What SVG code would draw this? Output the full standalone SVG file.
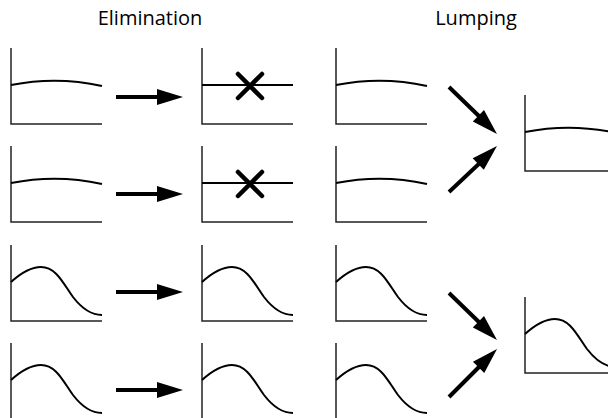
<svg xmlns="http://www.w3.org/2000/svg" width="608" height="418" viewBox="0 0 608 418">
<defs>
<style>
.axis{fill:none;stroke:#222;stroke-width:1.5}
.curve{fill:none;stroke:#000;stroke-width:2}
.shaft{stroke:#000;stroke-width:4;fill:none}
.head{fill:#000}
.cross{stroke:#000;stroke-width:4.5;stroke-linecap:round}
.title{font-family:"Open Sans","Liberation Sans",sans-serif;font-size:20px;fill:#000;text-anchor:middle}
</style>
<path id="arrowhead" d="M-26,-8 L0,0 L-26,8 z"/>
<path id="flat" d="M0,37 C30,31 60,31 91,38"/>
<path id="bell" d="M0,37 C10,28 20,22 30,22 C45,22 52,38 62,52 C72,65 82,70 91,70"/>
<path id="axes" d="M0,0 V76 H91"/>
</defs>
<text class="title" x="150" y="25">Elimination</text>
<text class="title" x="476" y="25">Lumping</text>

<g id="e-in-1" transform="translate(11,48)"><use href="#axes" class="axis"/><use href="#flat" class="curve"/></g>
<g id="e-in-2" transform="translate(11,146)"><use href="#axes" class="axis"/><use href="#flat" class="curve"/></g>
<g id="e-in-3" transform="translate(11,245)"><use href="#axes" class="axis"/><use href="#bell" class="curve"/></g>
<g id="e-in-4" transform="translate(11,343)"><use href="#axes" class="axis"/><use href="#bell" class="curve"/></g>

<g id="e-out-1" transform="translate(202,48)"><use href="#axes" class="axis"/><path d="M0,37 H91" class="curve" stroke-width="1.5"/><path class="cross" d="M36,26 L60,50 M60,26 L36,50"/></g>
<g id="e-out-2" transform="translate(202,146)"><use href="#axes" class="axis"/><path d="M0,37 H91" class="curve" stroke-width="1.5"/><path class="cross" d="M36,26 L60,50 M60,26 L36,50"/></g>
<g id="e-out-3" transform="translate(202,245)"><use href="#axes" class="axis"/><use href="#bell" class="curve"/></g>
<g id="e-out-4" transform="translate(202,343)"><use href="#axes" class="axis"/><use href="#bell" class="curve"/></g>

<g id="l-in-1" transform="translate(336,48)"><use href="#axes" class="axis"/><use href="#flat" class="curve"/></g>
<g id="l-in-2" transform="translate(336,146)"><use href="#axes" class="axis"/><use href="#flat" class="curve"/></g>
<g id="l-in-3" transform="translate(336,245)"><use href="#axes" class="axis"/><use href="#bell" class="curve"/></g>
<g id="l-in-4" transform="translate(336,343)"><use href="#axes" class="axis"/><use href="#bell" class="curve"/></g>

<g id="l-out-1" transform="translate(525,95)"><use href="#axes" class="axis"/><use href="#flat" class="curve"/></g>
<g id="l-out-2" transform="translate(525,297)"><use href="#axes" class="axis"/><use href="#bell" class="curve"/></g>

<g id="connectors">
<line class="shaft" x1="116" y1="97" x2="162" y2="97"/><use href="#arrowhead" class="head" transform="translate(183,97)"/>
<line class="shaft" x1="116" y1="194" x2="162" y2="194"/><use href="#arrowhead" class="head" transform="translate(183,194)"/>
<line class="shaft" x1="116" y1="292" x2="162" y2="292"/><use href="#arrowhead" class="head" transform="translate(183,292)"/>
<line class="shaft" x1="116" y1="390" x2="162" y2="390"/><use href="#arrowhead" class="head" transform="translate(183,390)"/>
<line class="shaft" x1="449" y1="87" x2="483" y2="120"/><use href="#arrowhead" class="head" transform="translate(497,134) rotate(44.4)"/>
<line class="shaft" x1="449" y1="192" x2="483" y2="160"/><use href="#arrowhead" class="head" transform="translate(497,146) rotate(-43.8)"/>
<line class="shaft" x1="449" y1="293" x2="483" y2="326"/><use href="#arrowhead" class="head" transform="translate(497,340) rotate(44.4)"/>
<line class="shaft" x1="449" y1="397" x2="483" y2="363"/><use href="#arrowhead" class="head" transform="translate(497,349) rotate(-45)"/>
</g>
</svg>
